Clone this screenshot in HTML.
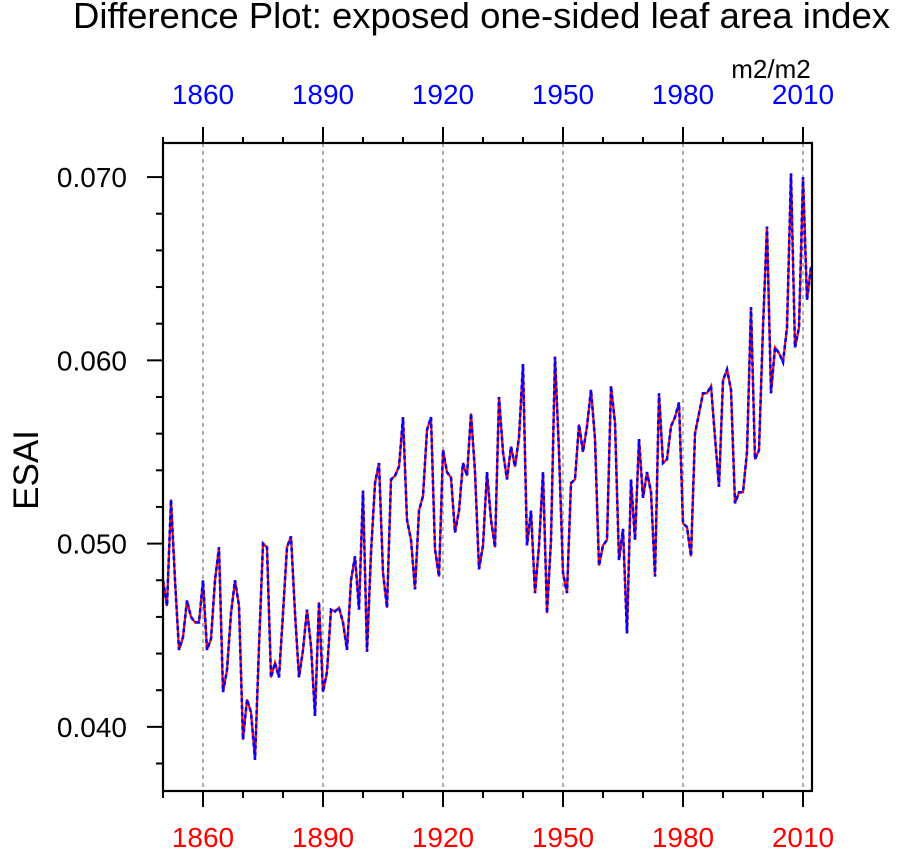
<!DOCTYPE html>
<html><head><meta charset="utf-8"><style>
body{margin:0;background:#fff;}
svg{display:block;font-family:"Liberation Sans",sans-serif;}
</style></head><body>
<svg id="chart" width="902" height="851">
<text x="73" y="28" font-size="36" textLength="817" lengthAdjust="spacingAndGlyphs">Difference Plot: exposed one-sided leaf area index</text>
<text x="771" y="78" font-size="26" text-anchor="middle">m2/m2</text>
<text transform="translate(38,470) rotate(-90)" font-size="35" text-anchor="middle">ESAI</text>
<g id="grid"></g><g id="ticks"></g><g id="series"></g>
<rect x="163" y="143" width="649" height="648" fill="none" stroke="#000" stroke-width="2.2"/>
</svg>
<script>
const startYear = 1850;
const values = [.0480,.0466,.0524,.0480,.0442,.0449,.0469,.0460,.0457,.0457,.0480,.0442,.0448,.0480,.0498,.0419,.0431,.0462,.0480,.0466,.0393,.0415,.0408,.0382,.0444,.0500,.0498,.0427,.0435,.0427,.0462,.0498,.0504,.0462,.0427,.0442,.0464,.0444,.0406,.0468,.0419,.0430,.0464,.0463,.0465,.0457,.0442,.0480,.0493,.0464,.0529,.0441,.0495,.0533,.0544,.0484,.0465,.0535,.0537,.0542,.0569,.0513,.0502,.0475,.0518,.0526,.0562,.0569,.0497,.0482,.0551,.0539,.0536,.0506,.0518,.0544,.0537,.0571,.0539,.0486,.0499,.0539,.0513,.0498,.0580,.0550,.0535,.0553,.0542,.0558,.0598,.0499,.0518,.0473,.0499,.0539,.0462,.0502,.0602,.0550,.0484,.0473,.0533,.0535,.0565,.0550,.0564,.0584,.0557,.0488,.0499,.0502,.0586,.0566,.0491,.0508,.0451,.0535,.0502,.0557,.0525,.0539,.0528,.0482,.0582,.0544,.0546,.0564,.0569,.0577,.0511,.0509,.0493,.0560,.0571,.0582,.0582,.0586,.0558,.0531,.0589,.0595,.0584,.0522,.0528,.0528,.0550,.0629,.0546,.0551,.0618,.0673,.0582,.0607,.0604,.0599,.0618,.0702,.0607,.0618,.0700,.0633,.0651];
const xTicks = [1860,1890,1920,1950,1980,2010];
const yTicks = [0.040,0.050,0.060,0.070];
const NS='http://www.w3.org/2000/svg';
const X0=163,X1=812,Y0=143,Y1=791,XMIN=1850,XMAX=2012.25;
const YMIN=0.0365,YMAX=0.07186;
function xs(v){return X0+(v-XMIN)/(XMAX-XMIN)*(X1-X0);}
function ys(v){return Y1-(v-YMIN)/(YMAX-YMIN)*(Y1-Y0);}
function mk(t,a,p){const e=document.createElementNS(NS,t);for(const k in a)e.setAttribute(k,a[k]);p.appendChild(e);return e;}
const grid=document.getElementById('grid'),ticks=document.getElementById('ticks'),ser=document.getElementById('series');
for(let yr=1850;yr<=2010;yr+=10){
  const x=xs(yr);const major=(yr-1860)%30===0;
  const tt=mk('line',{x1:x,x2:x,y1:Y0-(major?16:6),y2:Y0,stroke:'#000','stroke-width':2},ticks);
  
  
  const tb=mk('line',{x1:x,x2:x,y1:Y1,y2:Y1+(major?16:7),stroke:'#000','stroke-width':2},ticks);
  
  
}
xTicks.forEach(t=>{
  const x=xs(t);
  const g=mk('line',{x1:x,x2:x,y1:Y0,y2:Y1,stroke:'#777','stroke-width':1.2,'stroke-dasharray':'4 4'},grid);
  
  
  const lt=mk('text',{x:x,y:104,'font-size':28,'text-anchor':'middle',fill:'#0000ff'},ticks);
  lt.textContent=t;
  
  
  const lb=mk('text',{x:x,y:847,'font-size':28,'text-anchor':'middle',fill:'#ff0000'},ticks);
  lb.textContent=t;
  
  
});
for(let v=0.038;v<0.0719;v+=0.002){
  const y=ys(v);const major=Math.abs(Math.round(v*1000)%10)<0.5;
  const m=mk('line',{x1:X0-(major?16:7),x2:X0,y1:y,y2:y,stroke:'#000','stroke-width':2},ticks);
  
  
}
yTicks.forEach(t=>{
  const l=mk('text',{x:127,y:ys(t)+10,'font-size':28,'text-anchor':'end'},ticks);
  l.textContent=t.toFixed(3);
  
  
});
const pts=values.map((v,i)=>xs(startYear+i).toFixed(1)+','+ys(v).toFixed(1)).join(' ');
const r=mk('polyline',{points:pts,fill:'none',stroke:'#ff0000','stroke-width':2.2},ser);


const b=mk('polyline',{points:pts,fill:'none',stroke:'#0000ff','stroke-width':2.6,'stroke-dasharray':'4 3'},ser);


</script>
</body></html>
